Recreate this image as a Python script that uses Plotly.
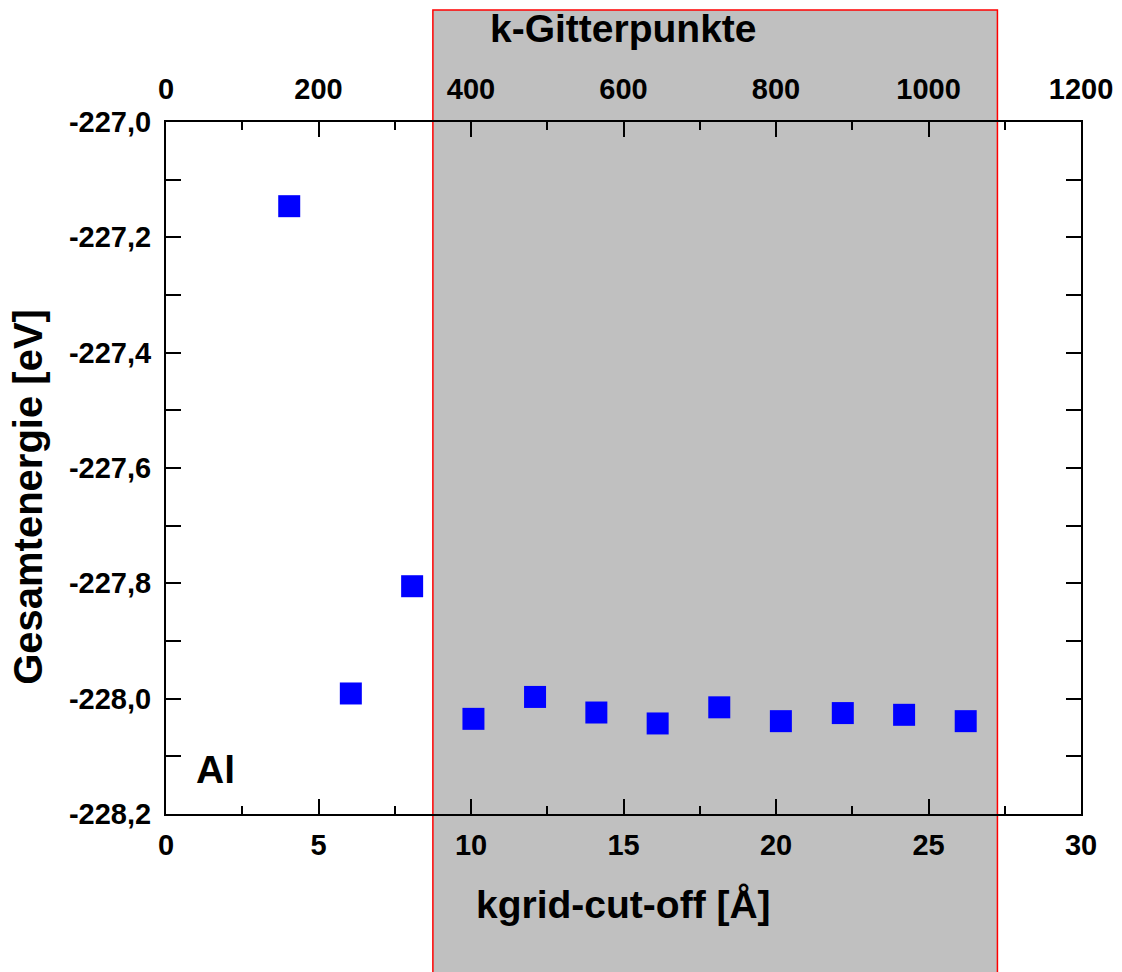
import plotly.graph_objects as go

# ---- data ----
x_cutoff = [4.04, 6.06, 8.07, 10.08, 12.10, 14.11, 16.12, 18.14, 20.16, 22.19, 24.20, 26.22]
energy = [-227.146, -227.991, -227.805, -228.035, -227.997, -228.024,
          -228.043, -228.015, -228.039, -228.025, -228.028, -228.039]

x_range = [0, 30]
x_ticks = [0, 5, 10, 15, 20, 25, 30]
k_range = [0, 1200]
k_ticks = [0, 200, 400, 600, 800, 1000, 1200]
y_range = [-228.2, -227.0]
y_ticks = [-227.0, -227.2, -227.4, -227.6, -227.8, -228.0, -228.2]
y_ticktext = ["-227,0", "-227,2", "-227,4", "-227,6", "-227,8", "-228,0", "-228,2"]
shade_range = [8.75, 27.26]

FONT = "Liberation Sans, Arial, sans-serif"
tickfont = dict(family=FONT, size=29, color="black", weight="bold")
titlefont = dict(family=FONT, size=39, color="black", weight="bold")
ytitlefont = dict(family=FONT, size=40, color="black", weight="bold")

fig = go.Figure()
fig.add_trace(go.Scatter(
    x=x_cutoff, y=energy, mode="markers",
    marker=dict(symbol="square", size=22, color="#0000ff", line=dict(width=0)),
    showlegend=False, cliponaxis=False,
))
# invisible helper trace so the top (k-grid points) axis is drawn
fig.add_trace(go.Scatter(
    x=k_range, y=y_range, xaxis="x2", yaxis="y", mode="markers",
    marker=dict(opacity=0), hoverinfo="skip", showlegend=False,
))

common = dict(
    showline=True, linecolor="black", linewidth=2,
    showgrid=False, zeroline=False, automargin=False,
    ticks="inside", ticklen=15, tickwidth=2, tickcolor="black",
    tickfont=tickfont,
)

fig.update_layout(
    width=1122, height=972,
    margin=dict(l=166, r=41, t=122, b=158),
    paper_bgcolor="white", plot_bgcolor="rgba(0,0,0,0)",
    showlegend=False,
    xaxis=dict(range=x_range, tickmode="array", tickvals=x_ticks,
               minor=dict(ticks="inside", ticklen=8, tickwidth=2, tickcolor="black",
                          dtick=2.5, tick0=0, showgrid=False),
               ticklabelstandoff=4, anchor="y", **common),
    xaxis2=dict(range=k_range, tickmode="array", tickvals=k_ticks,
                overlaying="x", side="top", anchor="y",
                minor=dict(ticks="inside", ticklen=8, tickwidth=2, tickcolor="black",
                           dtick=100, tick0=0, showgrid=False),
                ticklabelstandoff=9, **common),
    yaxis=dict(range=y_range, tickmode="array", tickvals=y_ticks, ticktext=y_ticktext,
               mirror="allticks",
               minor=dict(ticks="inside", ticklen=8, tickwidth=2, tickcolor="black",
                          dtick=0.1, tick0=-227.0, showgrid=False),
               ticklabelstandoff=7, **common),
    shapes=[dict(type="rect", xref="x", yref="paper",
                 x0=shade_range[0], x1=shade_range[1], y0=-0.3, y1=1.1618,
                 fillcolor="#c0c0c0", line=dict(color="red", width=1.5),
                 layer="below")],
    annotations=[
        dict(text="k-Gitterpunkte", xref="paper", yref="paper", x=0.5005, y=1.1358,
             xanchor="center", yanchor="middle", showarrow=False, font=titlefont),
        dict(text="kgrid-cut-off [Å]", xref="paper", yref="paper", x=0.4995, y=-0.1315,
             xanchor="center", yanchor="middle", showarrow=False, font=titlefont),
        dict(text="Gesamtenergie [eV]", xref="paper", yref="paper", x=-0.1511, y=0.458,
             xanchor="center", yanchor="middle", textangle=-90, showarrow=False,
             font=ytitlefont),
        dict(text="Al", xref="paper", yref="paper", x=0.0306, y=0.0636,
             xanchor="left", yanchor="middle", showarrow=False, font=titlefont),
    ],
)

fig.write_html("out.html")
